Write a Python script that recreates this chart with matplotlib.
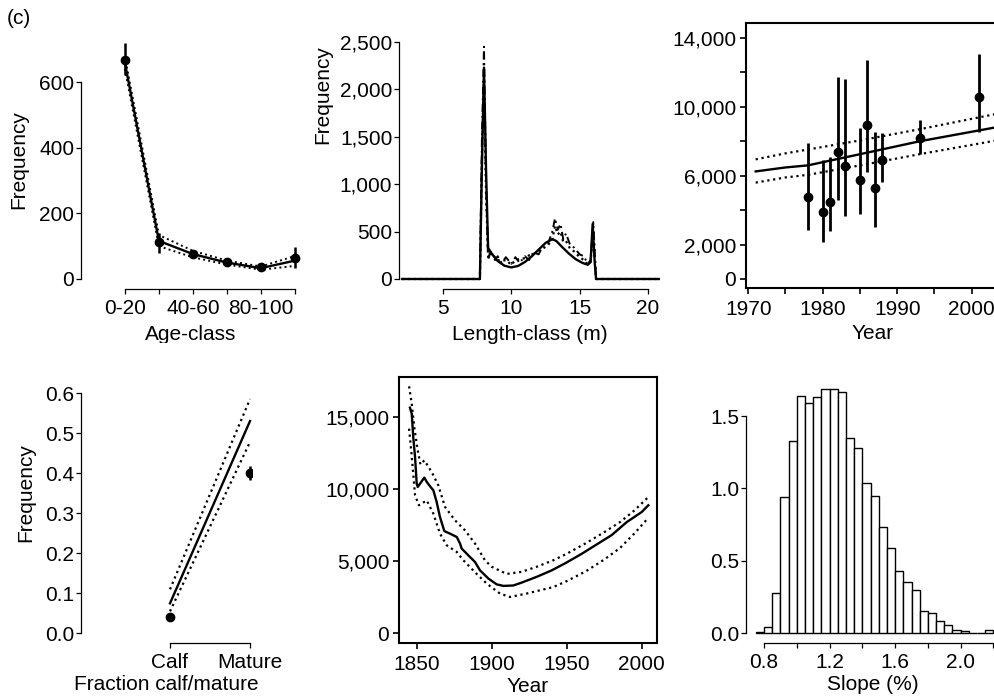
import matplotlib
matplotlib.use('agg')
import matplotlib.pyplot as plt
import matplotlib.ticker as mticker
import numpy as np

plt.rcParams['font.family'] = ['Liberation Sans', 'DejaVu Sans']
plt.rcParams['font.size'] = 15

# ---- panel 1: age-class frequencies
age_labels = ["0-20", "", "40-60", "", "80-100", ""]
age_obs = [668, 112, 75, 53, 36, 64]
age_lo = [622, 80, 65, 45, 30, 32]
age_hi = [720, 140, 85, 60, 42, 99]
age_fit = [660, 116, 76, 50, 33, 56]
age_fit_hi = [678, 134, 86, 56, 38, 70]
age_fit_lo = [640, 100, 66, 44, 28, 40]

# ---- panel 2: length-class frequencies
len_x = [2.0, 7.7, 7.85, 8.0, 8.15, 8.3, 8.6, 9.0, 9.5, 10.0, 10.5, 11.0, 11.5,
         12.0, 12.5, 13.0, 13.3, 13.7, 14.2, 14.7, 15.2, 15.6, 15.8, 15.95,
         16.1, 16.2, 20.8]
len_fit = [0, 0, 1200, 2230, 1150, 330, 260, 190, 140, 122, 138, 180, 240,
           310, 380, 420, 400, 340, 270, 210, 170, 150, 180, 580, 180, 0, 0]
len_obs_x = [2.0, 7.7, 7.85, 8.0, 8.15, 8.3, 8.5, 8.8, 9.0, 9.3, 9.6, 10.0,
             10.3, 10.6, 11.0, 11.3, 11.6, 12.0, 12.3, 12.7, 13.0, 13.2, 13.4,
             13.6, 13.8, 14.0, 14.3, 14.6, 15.0, 15.3, 15.6, 15.8, 16.0, 16.2,
             20.8]
len_obs = [0, 0, 1500, 2450, 1000, 200, 300, 200, 240, 170, 230, 160, 230, 170,
           240, 200, 280, 260, 350, 380, 500, 640, 520, 580, 420, 480, 360, 330,
           260, 240, 160, 200, 600, 0, 0]
len_alt = [0, 0, 1300, 2100, 900, 250, 270, 230, 200, 190, 200, 150, 200, 210,
           220, 250, 260, 300, 320, 360, 420, 560, 470, 500, 390, 400, 320, 290,
           230, 200, 150, 180, 520, 0, 0]

# ---- panel 3: abundance estimates and trend
est_year = [1978, 1980, 1981, 1982, 1983, 1985, 1986, 1987, 1988, 1993, 2001]
est_val = [4770, 3890, 4450, 7400, 6580, 5750, 8930, 5300, 6930, 8190, 10560]
est_lo = [2850, 2170, 2810, 4590, 3680, 3760, 6200, 3040, 5620, 7240, 8520]
est_hi = [7920, 6910, 7070, 11750, 11620, 8790, 12720, 8560, 8460, 9240, 13070]
trend_year = [1971, 1975, 1978, 1985, 1993, 2004]
trend_mid = [6250, 6480, 6600, 7250, 8000, 8870]
trend_hi = [6950, 7300, 7520, 8050, 8700, 9650]
trend_lo = [5600, 5900, 6050, 6600, 7250, 8100]

# ---- panel 4: calf / mature fraction
frac_labels = ["Calf", "Mature"]
frac_obs = [0.041, 0.400]
frac_err = [0.0, 0.017]
frac_fit = [0.075, 0.530]
frac_fit_hi = [0.110, 0.585]
frac_fit_lo = [0.055, 0.478]

# ---- panel 5: population trajectory
traj_year = [1845.5, 1846.7, 1847.7, 1848.9, 1850, 1850.7, 1852.2, 1855.1,
             1856.7, 1858.9, 1861.1, 1863.3, 1865.5, 1868.4, 1872.2, 1876.7,
             1878.9, 1880, 1882.2, 1885.5, 1888.9, 1892.2, 1897.8, 1903.3,
             1907.8, 1914.4, 1920, 1930, 1940, 1950, 1960, 1970, 1980, 1990,
             2000, 2004.4]
traj_mid = [15650, 15230, 13610, 12220, 10370, 10140, 10370, 10790, 10490,
            10190, 9910, 9100, 8060, 7080, 6900, 6670, 6210, 5860, 5630, 5280,
            4930, 4350, 3780, 3380, 3270, 3300, 3500, 3900, 4350, 4900, 5500,
            6150, 6800, 7700, 8400, 8870]
traj_hi_year = [1844.9, 1846.7, 1848.5, 1850.5, 1852.5, 1855.1, 1860, 1864.4,
                1868.9, 1875.5, 1882.2, 1888.9, 1895.5, 1900, 1910, 1920, 1930,
                1941, 1950, 1963, 1975, 1985.5, 1995, 2004]
traj_hi = [17130, 15930, 14200, 12800, 11700, 11990, 11180, 10260, 8750,
           7830, 7130, 6210, 5050, 4600, 4100, 4250, 4600, 5050, 5500, 6250,
           7000, 7700, 8500, 9400]
traj_lo_year = [1844.9, 1846.5, 1848.9, 1851.5, 1856.7, 1861.1, 1865.5, 1870,
                1876.7, 1881.1, 1885.5, 1890, 1896.7, 1905.5, 1912.2, 1923.3,
                1941, 1950, 1963, 1975, 1985.5, 1995, 2004]
traj_lo = [14190, 12500, 9560, 8870, 9210, 8290, 6900, 6090, 5630, 5050,
           4580, 4100, 3430, 2740, 2500, 2740, 3190, 3600, 4300, 5100, 5900,
           6900, 7950]

# ---- panel 6: histogram of slopes
slope_edges = [0.75, 0.80, 0.85, 0.90, 0.95, 1.00, 1.05, 1.10, 1.15, 1.20,
               1.25, 1.30, 1.35, 1.40, 1.45, 1.50, 1.55, 1.60, 1.65, 1.70,
               1.75, 1.80, 1.85, 1.90, 1.95, 2.00, 2.05, 2.10, 2.15]
slope_dens = [0.007, 0.04, 0.28, 0.94, 1.33, 1.64, 1.59, 1.63, 1.69, 1.69,
              1.67, 1.35, 1.28, 1.04, 0.95, 0.73, 0.59, 0.43, 0.35, 0.295,
              0.155, 0.14, 0.085, 0.055, 0.023, 0.014, 0.0, 0.0, 0.018]

W, H = 994, 697
fig = plt.figure(figsize=(W / 100, H / 100), dpi=100)


def add_ax(l, t, r, b):
    return fig.add_axes([l / W, 1 - b / H, (r - l) / W, (b - t) / H])


comma = mticker.FuncFormatter(lambda v, p: f"{v:,.0f}")
LW = 1.7
SP = 0.9


def style(ax, box=False):
    ax.tick_params(direction='out', length=3.3, width=SP, labelsize=15)
    ax.tick_params(axis='x', pad=4.0)
    ax.tick_params(axis='y', pad=1.5)
    for s in ax.spines.values():
        s.set_linewidth(1.5 if box else SP)
    if box:
        ax.tick_params(length=4.5, width=1.2)
        ax.tick_params(axis='y', pad=2.5)
    else:
        ax.spines['top'].set_visible(False)
        ax.spines['right'].set_visible(False)


# panel 1
ax1 = add_ax(81, 30, 300, 289)
style(ax1)
xa = np.arange(len(age_obs))
ax1.plot(xa, age_fit_hi, ':', color='black', lw=1.4)
ax1.plot(xa, age_fit_lo, ':', color='black', lw=1.4)
ax1.plot(xa, age_fit, '-', color='black', lw=LW)
ax1.errorbar(xa, age_obs,
             yerr=[np.array(age_obs) - np.array(age_lo), np.array(age_hi) - np.array(age_obs)],
             fmt='o', color='black', ms=6, elinewidth=1.8, capsize=0)
ax1.set_xlim(-1.29, 5.15)
ax1.set_ylim(-30.5, 758.8)
ax1.spines['left'].set_bounds(0, 600)
ax1.spines['bottom'].set_bounds(0, 5)
ax1.set_yticks([0, 200, 400, 600])
ax1.set_xticks(xa)
ax1.set_xticklabels(age_labels)
ax1.set_xlabel("Age-class", labelpad=5)
ax1.set_ylabel("Frequency")
ax1.yaxis.set_label_coords(-0.24, 0.5)

# panel 2
ax2 = add_ax(399, 30, 660, 289)
style(ax2)
ax2.plot(len_obs_x, len_alt, ':', color='black', lw=1.6)
ax2.plot(len_obs_x, len_obs, color='black', lw=1.4, dashes=(4, 2, 1, 2))
ax2.plot(len_x, len_fit, '-', color='black', lw=LW)
ax2.set_xlim(1.78, 20.88)
ax2.set_ylim(-105.5, 2626.6)
ax2.spines['left'].set_bounds(0, 2500)
ax2.spines['bottom'].set_bounds(5, 20)
ax2.set_yticks([0, 500, 1000, 1500, 2000, 2500])
ax2.set_xticks([5, 10, 15, 20])
ax2.yaxis.set_major_formatter(comma)
ax2.set_xlabel("Length-class (m)", labelpad=5)
ax2.set_ylabel("Frequency")
ax2.yaxis.set_label_coords(-0.255, 0.75)

# panel 3
ax3 = add_ax(746, 23, 1000, 288)
style(ax3, box=True)
ax3.plot(trend_year, trend_hi, ':', color='black', lw=1.6)
ax3.plot(trend_year, trend_lo, ':', color='black', lw=1.6)
ax3.plot(trend_year, trend_mid, '-', color='black', lw=LW)
ax3.errorbar(est_year, est_val,
             yerr=[np.array(est_val) - np.array(est_lo), np.array(est_hi) - np.array(est_val)],
             fmt='o', color='black', ms=6, elinewidth=2, capsize=0)
ax3.set_xlim(1969.7, 2003.8)
ax3.set_ylim(-523, 14872)
ax3.set_yticks([0, 2000, 4000, 6000, 8000, 10000, 12000, 14000])
ax3.set_yticklabels(["0", "2,000", "", "6,000", "", "10,000", "", "14,000"])
ax3.set_xticks([1970, 1975, 1980, 1985, 1990, 1995, 2000])
ax3.set_xticklabels(["1970", "", "1980", "", "1990", "", "2000"])
ax3.set_xlabel("Year", labelpad=4)

# panel 4
ax4 = add_ax(81, 343, 252, 643)
style(ax4)
xf = np.arange(len(frac_obs))
ax4.plot(xf, frac_fit_hi, ':', color='black', lw=1.6)
ax4.plot(xf, frac_fit_lo, ':', color='black', lw=1.6)
ax4.plot(xf, frac_fit, '-', color='black', lw=LW)
ax4.errorbar(xf, frac_obs, yerr=frac_err, fmt='o', color='black', ms=6,
             elinewidth=1.8, capsize=0)
ax4.set_xlim(-1.1125, 1.025)
ax4.set_ylim(-0.024, 0.725)
ax4.spines['left'].set_bounds(0, 0.6)
ax4.spines['bottom'].set_bounds(0, 1)
ax4.set_yticks([0, 0.1, 0.2, 0.3, 0.4, 0.5, 0.6])
ax4.yaxis.set_major_formatter(mticker.FormatStrFormatter('%.1f'))
ax4.set_xticks(xf)
ax4.set_xticklabels(frac_labels)
ax4.set_xlabel("Fraction calf/mature", labelpad=2)
ax4.set_ylabel("Frequency")
ax4.yaxis.set_label_coords(-0.27, 0.5)

# panel 5
ax5 = add_ax(399, 377, 657, 643)
style(ax5, box=True)
ax5.plot(traj_hi_year, traj_hi, ':', color='black', lw=1.6)
ax5.plot(traj_lo_year, traj_lo, ':', color='black', lw=1.6)
ax5.plot(traj_year, traj_mid, '-', color='black', lw=LW)
ax5.set_xlim(1838.2, 2010.2)
ax5.set_ylim(-694, 17778)
ax5.set_yticks([0, 5000, 10000, 15000])
ax5.yaxis.set_major_formatter(comma)
ax5.set_xticks([1850, 1900, 1950, 2000])
ax5.set_xlabel("Year", labelpad=2)

# panel 6
ax6 = add_ax(746, 380, 1000, 643)
style(ax6)
ax6.bar(slope_edges, slope_dens, width=0.05, align='edge', facecolor='white',
        edgecolor='black', linewidth=1.0)
ax6.set_xlim(0.69, 2.24)
ax6.set_ylim(-0.069, 1.75)
ax6.spines['left'].set_bounds(0, 1.5)
ax6.spines['bottom'].set_bounds(0.8, 2.3)
ax6.set_yticks([0, 0.5, 1.0, 1.5])
ax6.yaxis.set_major_formatter(mticker.FormatStrFormatter('%.1f'))
ax6.set_xticks([0.8, 1.0, 1.2, 1.4, 1.6, 1.8, 2.0, 2.2])
ax6.set_xticklabels(["0.8", "", "1.2", "", "1.6", "", "2.0", ""])
ax6.set_xlabel("Slope (%)", labelpad=2)

fig.text(7 / W, 1 - 18 / H, "(c)", fontsize=15, va='center', ha='left')

fig.savefig("out.png", dpi=100)
